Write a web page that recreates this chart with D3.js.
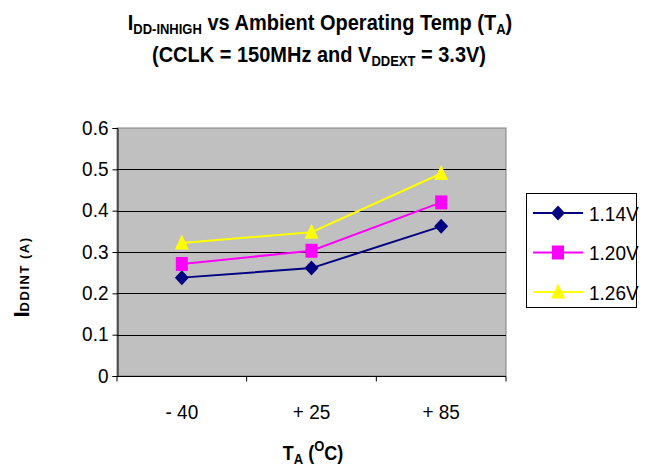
<!DOCTYPE html>
<html><head><meta charset="utf-8">
<script src="https://cdn.jsdelivr.net/npm/d3@7"></script>
<style>
body{margin:0;background:#fff;}
text{font-family:"Liberation Sans",Arial,sans-serif;}
</style></head>
<body><svg id="c" width="645" height="470"></svg>
<script>
const categories = ["- 40", "+ 25", "+ 85"];
const seriesNames = ["1.14V", "1.20V", "1.26V"];
const v114 = [0.238, 0.261, 0.362];
const v120 = [0.271, 0.303, 0.420];
const v126 = [0.322, 0.348, 0.490];
const yTicks = [0, 0.1, 0.2, 0.3, 0.4, 0.5, 0.6];
const colors = ["#000080", "#ff00ff", "#ffff00"];
const shapes = ["diamond", "square", "triangle"];
const series = [v114, v120, v126].map((vals, i) => ({name: seriesNames[i], vals, color: colors[i], shape: shapes[i]}));

function markerPath(shape) {
  const p = d3.path();
  if (shape === "diamond") { p.moveTo(0, -7.5); p.lineTo(7, 0); p.lineTo(0, 7.5); p.lineTo(-7, 0); }
  else if (shape === "square") { p.rect(-6, -7, 12, 14); }
  else { p.moveTo(0, -8.5); p.lineTo(7, 6.5); p.lineTo(-7, 6.5); }
  p.closePath();
  return p.toString();
}

const SY = 1.1; // vertical stretch of text seen in the reference
const svg = d3.select("#c");
function stretchedText(parent, x, y) {
  return parent.append("text").attr("transform", `translate(${x},${y}) scale(1,${SY})`);
}

const L = 117, R = 506, T = 128, B = 376;
const x = d3.scaleBand().domain(categories).range([L, R]);
const y = d3.scaleLinear().domain([0, 0.6]).range([B, T]);

svg.append("rect").attr("x", L).attr("y", T).attr("width", R - L).attr("height", B - T)
  .attr("fill", "#c0c0c0").attr("stroke", "#808080").attr("stroke-width", 1);

svg.append("g").selectAll("line").data(yTicks.filter(d => d > 0 && d < 0.6)).join("line")
  .attr("x1", L).attr("x2", R).attr("y1", d => Math.round(y(d)) + 0.5).attr("y2", d => Math.round(y(d)) + 0.5)
  .attr("stroke", "#000").attr("stroke-width", 1);

const yAxis = svg.append("g").attr("transform", `translate(${L + 0.5},0)`)
  .call(d3.axisLeft(y).tickValues(yTicks).tickSize(5).tickPadding(4).tickFormat(d => d === 0 ? "0" : d3.format(".1f")(d)));
yAxis.select(".domain").attr("stroke", "#000");
yAxis.selectAll(".tick line").attr("stroke", "#000");
yAxis.selectAll("text").attr("font-size", 19).attr("fill", "#000").attr("font-family", "Liberation Sans, Arial")
  .attr("transform", `scale(1,${SY})`).attr("dy", "0.29em");

const xTickScale = d3.scaleLinear().domain([0, 3]).range([L, R]);
const xAxis = svg.append("g").attr("transform", `translate(0,${B + 0.5})`);
xAxis.append("line").attr("x1", L).attr("x2", R).attr("stroke", "#000");
xAxis.selectAll("line.t").data([0, 1, 2, 3]).join("line").attr("class", "t")
  .attr("x1", d => xTickScale(d)).attr("x2", d => xTickScale(d)).attr("y1", 0).attr("y2", 5).attr("stroke", "#000");
categories.forEach(c => {
  stretchedText(xAxis, x(c) + x.bandwidth() / 2, 42).attr("text-anchor", "middle").attr("font-size", 19).text(c);
});

const line = d3.line().x((d, i) => x(categories[i]) + x.bandwidth() / 2).y(d => y(d));
series.forEach(s => {
  svg.append("path").datum(s.vals).attr("d", line).attr("fill", "none").attr("stroke", s.color).attr("stroke-width", 2);
  svg.append("g").selectAll("path").data(s.vals).join("path")
    .attr("transform", (d, i) => `translate(${x(categories[i]) + x.bandwidth() / 2},${y(d)})`)
    .attr("d", markerPath(s.shape))
    .attr("fill", s.color);
});

// legend
const lg = svg.append("g");
lg.append("rect").attr("x", 526.5).attr("y", 193.5).attr("width", 110).attr("height", 114)
  .attr("fill", "#fff").attr("stroke", "#000");
series.forEach((s, i) => {
  const ly = 213 + i * 39.5;
  lg.append("line").attr("x1", 533).attr("x2", 583).attr("y1", ly).attr("y2", ly).attr("stroke", s.color).attr("stroke-width", 2);
  lg.append("path").attr("transform", `translate(558,${ly})`).attr("d", markerPath(s.shape)).attr("fill", s.color);
  stretchedText(lg, 589, ly + 7.5).attr("font-size", 19).text(s.name);
});

// titles
const t1 = stretchedText(svg, 320, 30).attr("text-anchor", "middle").attr("font-size", 20).attr("font-weight", "bold");
t1.append("tspan").text("I");
t1.append("tspan").attr("font-size", 13).attr("dy", 4).text("DD-INHIGH");
t1.append("tspan").attr("dy", -4).text(" vs Ambient Operating Temp (T");
t1.append("tspan").attr("font-size", 13).attr("dy", 4).text("A");
t1.append("tspan").attr("dy", -4).text(")");

const t2 = stretchedText(svg, 319, 62).attr("text-anchor", "middle").attr("font-size", 20).attr("font-weight", "bold");
t2.append("tspan").text("(CCLK = 150MHz and V");
t2.append("tspan").attr("font-size", 13).attr("dy", 4).text("DDEXT");
t2.append("tspan").attr("dy", -4).text(" = 3.3V)");

const xt = stretchedText(svg, 313, 460).attr("text-anchor", "middle").attr("font-size", 18).attr("font-weight", "bold");
xt.append("tspan").text("T");
xt.append("tspan").attr("font-size", 13).attr("dy", 4).text("A");
xt.append("tspan").attr("dy", -4).text(" (");
xt.append("tspan").attr("font-size", 13).attr("dy", -8).text("O");
xt.append("tspan").attr("dy", 8).text("C)");

const yt = svg.append("text").attr("transform", "translate(29,277) rotate(-90)").attr("text-anchor", "middle").attr("font-size", 22).attr("font-weight", "bold");
yt.append("tspan").text("I");
yt.append("tspan").attr("font-size", 13).attr("letter-spacing", 1.5).text("DDINT (A)");
</script></body></html>
